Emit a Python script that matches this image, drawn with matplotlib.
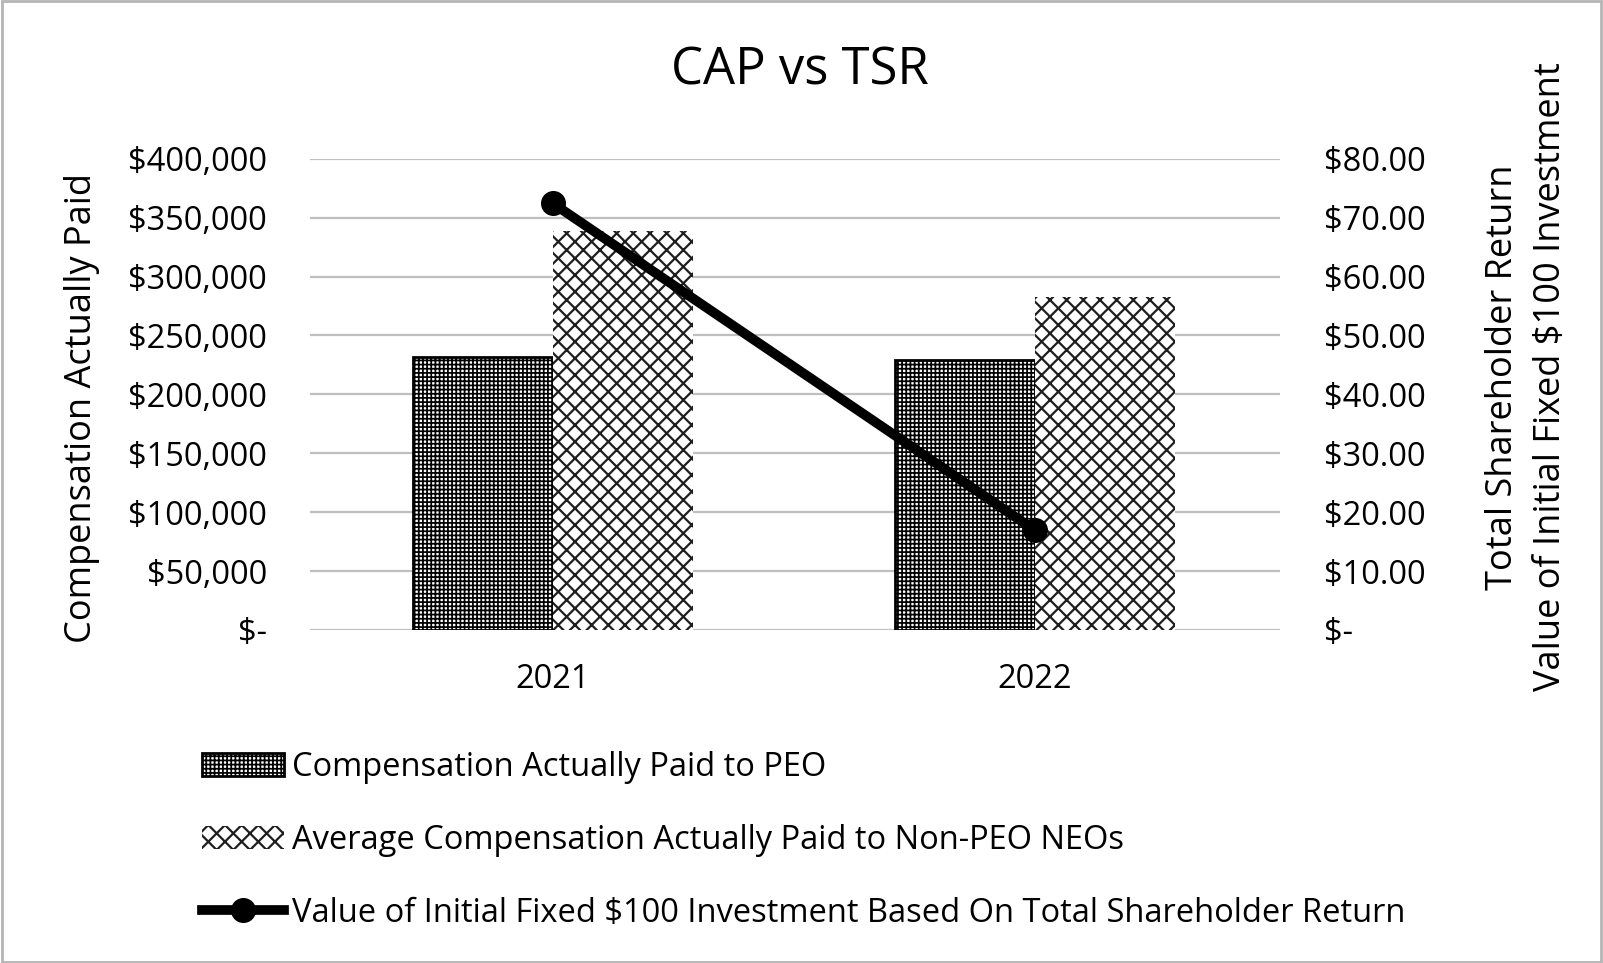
import matplotlib
matplotlib.use("Agg")
import matplotlib.pyplot as plt
from matplotlib.patches import Rectangle, Patch
from matplotlib.lines import Line2D
from matplotlib.ticker import FuncFormatter, MultipleLocator
import numpy as np

plt.rcParams['font.family'] = ['Open Sans', 'DejaVu Sans']
plt.rcParams['hatch.linewidth'] = 1.0

years = ["2021", "2022"]
cap_peo = [232000, 229000]
cap_neo = [338600, 283000]
tsr = [72.4, 16.9]

title = "CAP vs TSR"
label_peo = "Compensation Actually Paid to PEO"
label_neo = "Average Compensation Actually Paid to Non-PEO NEOs"
label_tsr = "Value of Initial Fixed $100 Investment Based On Total Shareholder Return"

HATCH_PEO = '++++'
HATCH_NEO = 'xx'


def set_hlw(patches, lw):
    for p in patches:
        try:
            p.set_hatch_linewidth(lw)
        except AttributeError:
            pass


W, H = 1603, 963
fig = plt.figure(figsize=(W / 100, H / 100), dpi=100)
ax = fig.add_axes([310 / W, 1 - 630 / H, (1280 - 310) / W, (630 - 158.7) / H])

x = np.arange(len(years))
bw = 0.29
b1 = ax.bar(x - bw / 2, cap_peo, bw, facecolor='white', edgecolor='black',
            hatch=HATCH_PEO, linewidth=2, zorder=3)
b2 = ax.bar(x + bw / 2, cap_neo, bw, facecolor='white', edgecolor='#1e1e1e',
            hatch=HATCH_NEO, linewidth=0, zorder=3)
set_hlw(b1, 1.25)
set_hlw(b2, 1.6)

ax.set_xlim(-0.504, 1.508)
ax.set_ylim(0, 400000)
ax.yaxis.set_major_locator(MultipleLocator(50000))
ax.yaxis.set_major_formatter(FuncFormatter(lambda v, p: "$-" if v == 0 else f"${v:,.0f}"))
ax.set_xticks(x)
ax.set_xticklabels(years)
ax.grid(axis='y', color='#bfbfbf', linewidth=1.6, zorder=0)
for s in ax.spines.values():
    s.set_visible(False)
ax.tick_params(axis='y', length=0, pad=31, labelsize=23.5)
ax.tick_params(axis='x', length=0, pad=24, labelsize=23.5)

ax2 = ax.twinx()
ax2.plot(x, tsr, color='black', linewidth=7, marker='o', markersize=17, zorder=5)
ax2.set_ylim(0, 80)
ax2.yaxis.set_major_locator(MultipleLocator(10))
ax2.yaxis.set_major_formatter(FuncFormatter(lambda v, p: "$-" if v == 0 else f"${v:.2f}"))
for s in ax2.spines.values():
    s.set_visible(False)
ax2.tick_params(axis='y', length=0, pad=32, labelsize=23.5)

fig.text(0.4987, 1 - 71 / H, title, ha='center', va='center', fontsize=36.5)
fig.text(82 / W, 1 - 408 / H, "Compensation Actually Paid", rotation=90,
         ha='center', va='center', fontsize=26)
fig.text(1503 / W, 1 - 377 / H, "Total Shareholder Return", rotation=90,
         ha='center', va='center', fontsize=26)
fig.text(1551 / W, 1 - 377 / H, "Value of Initial Fixed $100 Investment", rotation=90,
         ha='center', va='center', fontsize=26)

hp = Patch(facecolor='white', edgecolor='black', hatch=HATCH_PEO, linewidth=2)
hn = Patch(facecolor='white', edgecolor='#1e1e1e', hatch=HATCH_NEO, linewidth=0)
hl = Line2D([0], [0], color='black', linewidth=7, marker='o', markersize=17)
leg = fig.legend([hp, hn, hl], [label_peo, label_neo, label_tsr], loc='upper left',
                 bbox_to_anchor=(202 / W, 1 - 751 / H), frameon=False, fontsize=23.5,
                 handlelength=2.5, handletextpad=0.25, labelspacing=1.22,
                 borderpad=0, borderaxespad=0)
lh = leg.legend_handles
set_hlw([lh[0]], 1.25)
set_hlw([lh[1]], 1.6)

fig.patches.append(Rectangle((0.001, 0.0015), 0.998, 0.997, transform=fig.transFigure,
                             fill=False, edgecolor='#b5b5b5', linewidth=2))

fig.savefig("out.png", dpi=100)
